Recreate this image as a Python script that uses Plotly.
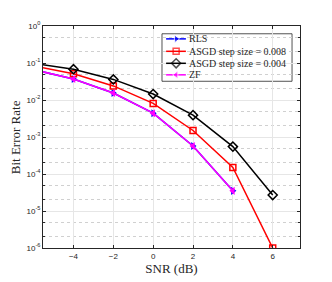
import plotly.graph_objects as go

snr = [-6, -4, -2, 0, 2, 4, 6]
rls = [0.066, 0.037, 0.0155, 0.0044, 0.00057, 0.000035]
asgd_008 = [0.083, 0.051, 0.024, 0.0081, 0.0015, 0.00015, 0.000001]
asgd_004 = [0.098, 0.068, 0.036, 0.0145, 0.0039, 0.00055, 0.000027]
zf = [0.066, 0.037, 0.0155, 0.0044, 0.00057, 0.000035]

series_names = ["RLS", "ASGD step size = 0.008", "ASGD step size = 0.004", "ZF"]

ytick_vals = [1e-6, 1e-5, 1e-4, 1e-3, 1e-2, 1e-1, 1]
ytick_text = ["10<sup>-6</sup>", "10<sup>-5</sup>", "10<sup>-4</sup>", "10<sup>-3</sup>",
              "10<sup>-2</sup>", "10<sup>-1</sup>", "10<sup>0</sup>"]
xtick_vals = [-4, -2, 0, 2, 4, 6]

serif = "Liberation Serif"
sans = "Liberation Sans"
axc = "#262626"

styles = [
    dict(line=dict(color="#0000ff", width=1.5), marker=dict(symbol="triangle-right", size=7, color="#0000ff")),
    dict(line=dict(color="#ff0000", width=1.5), marker=dict(symbol="square-open", size=6, color="#ff0000", line=dict(width=1.5))),
    dict(line=dict(color="#000000", width=1.5), marker=dict(symbol="diamond-open", size=7, color="#000000", line=dict(width=1.5))),
    dict(line=dict(color="#ff00ff", width=1.5), marker=dict(symbol="triangle-left", size=7, color="#ff00ff")),
]
data = [rls, asgd_008, asgd_004, zf]

fig = go.Figure()
for name, ys, st in zip(series_names, data, styles):
    fig.add_trace(go.Scatter(x=snr[:len(ys)], y=ys, name=name, mode="lines+markers",
                             line=st["line"], marker=st["marker"], showlegend=False))

# Legend (MATLAB style), drawn on an overlay axis spanning the plot area [0,1]x[0,1]
leg_x0, leg_x1, leg_y0, leg_y1 = 0.463, 0.969, 0.751, 0.965
row_y = [0.942, 0.886, 0.832, 0.780]
seg_x = [0.479, 0.518, 0.556]
text_x = 0.562
fig.add_shape(type="rect", xref="paper", yref="paper", x0=leg_x0, x1=leg_x1, y0=leg_y0, y1=leg_y1,
              line=dict(color=axc, width=0.8), fillcolor="white", layer="between")
for name, st, ry in zip(series_names, styles, row_y):
    mk = dict(st["marker"])
    mk["size"] = [0, st["marker"]["size"], 0]
    fig.add_trace(go.Scatter(x=seg_x, y=[ry] * 3, mode="lines+markers", line=st["line"], marker=mk,
                             xaxis="x2", yaxis="y2", showlegend=False, hoverinfo="skip"))
    fig.add_annotation(x=text_x, y=ry, xref="paper", yref="paper", text=name, showarrow=False,
                       xanchor="left", yanchor="middle",
                       font=dict(family=serif, size=10, color=axc))

# y-axis title
fig.add_annotation(x=-0.108, y=0.5, xref="paper", yref="paper", text="Bit Error Rate",
                   showarrow=False, textangle=-90, xanchor="center", yanchor="middle",
                   font=dict(family=serif, size=13, color=axc))

fig.update_layout(
    width=324, height=274,
    margin=dict(l=35, r=32, t=14, b=31),
    paper_bgcolor="white", plot_bgcolor="white",
    font=dict(family=sans, size=8, color=axc),
    showlegend=False,
    xaxis=dict(
        range=[-5.53, 7.37], tickvals=xtick_vals, ticks="inside", ticklen=3,
        tickcolor=axc, showgrid=True, gridcolor="#e6e6e6", gridwidth=1,
        showline=True, linecolor=axc, linewidth=1, mirror="ticks", zeroline=False,
        title=dict(text="SNR (dB)", font=dict(family=serif, size=13, color=axc), standoff=0),
        tickfont=dict(family=sans, size=8),
    ),
    yaxis=dict(
        type="log", range=[-6, 0], tickvals=ytick_vals, ticktext=ytick_text,
        ticks="inside", ticklen=3, tickcolor=axc,
        showgrid=True, gridcolor="#e6e6e6", gridwidth=1,
        showline=True, linecolor=axc, linewidth=1, mirror="ticks", zeroline=False,
        minor=dict(ticks="inside", ticklen=2, tickcolor=axc, showgrid=True,
                   gridcolor="#d0d0d0", griddash="dot", gridwidth=0.6),
        tickfont=dict(family=sans, size=8),
    ),
    xaxis2=dict(overlaying="x", range=[0, 1], visible=False, fixedrange=True),
    yaxis2=dict(overlaying="y", range=[0, 1], visible=False, fixedrange=True),
)

fig.write_html("out.html")
